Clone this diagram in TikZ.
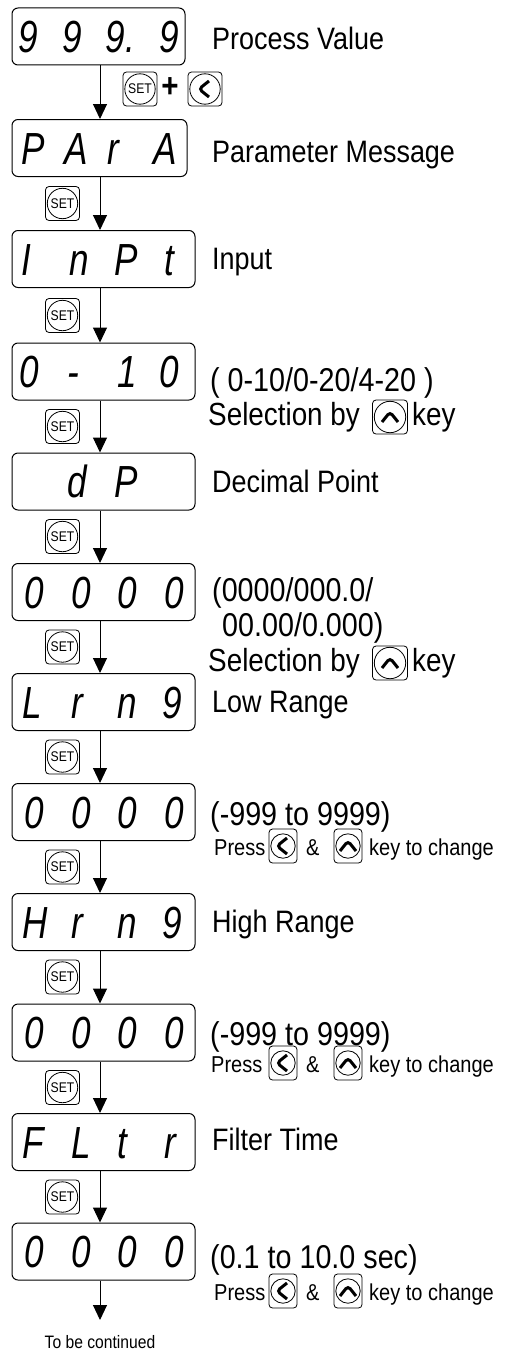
\documentclass[tikz,border=0pt]{standalone}
\usepackage{fontspec}
\setmainfont{Liberation Sans}[FakeStretch=0.87]
\newfontfamily\segfont{Liberation Sans}[FakeStretch=0.78]
\usetikzlibrary{arrows.meta,positioning}
\tikzset{
  display/.style={draw, line width=1pt, rounded corners=6pt, minimum height=57pt, inner sep=0pt},
  seg/.style={anchor=base west, inner sep=0pt, font=\segfont\itshape\fontsize{45}{45}\selectfont},
  lbl/.style={anchor=base west, inner sep=0pt, font=\fontsize{31}{34}\selectfont},
  rng/.style={lbl, font=\fontsize{33}{36}\selectfont},
  sel/.style={lbl, font=\fontsize{32}{35}\selectfont},
  hint/.style={lbl, font=\fontsize{23}{26}\selectfont},
  flow/.style={-{Triangle[length=15pt,width=14pt]}, line width=1pt},
  keybox/.style={draw, line width=0.8pt, rounded corners=3.5pt, minimum width=#1, minimum height=34pt, inner sep=0pt,
    path picture={\draw[line width=0.8pt] (path picture bounding box.center) circle (0.5*#1-1.8pt);}},
  keybox/.default=34pt,
  setkey/.style={keybox, font=\fontsize{14}{14}\selectfont},
  lkey/.style={keybox=#1, path picture={
    \draw[line width=0.8pt] (path picture bounding box.center) circle (0.5*#1-1.8pt);
    \draw[line width=3pt] ([shift={(4pt,8pt)}]path picture bounding box.center) -- ++(-10pt,-8pt) -- ++(10pt,-8pt);}},
  lkey/.default=34pt,
  ukey/.style={keybox=#1, path picture={
    \draw[line width=0.8pt] (path picture bounding box.center) circle (0.5*#1-1.8pt);
    \draw[line width=3pt] ([shift={(-8pt,-5pt)}]path picture bounding box.center) -- ++(8pt,10pt) -- ++(8pt,-10pt);}},
  ukey/.default=34pt
}
\begin{document}
\begin{tikzpicture}[x=1pt,y=-1pt]
  \useasboundingbox (0,0) rectangle (515,1354);
  \coordinate (spine) at (100,0);
  \foreach \n/\yc/\w in {1/36.5/173, 2/148/175, 3/259/183, 4/371.5/183, 5/481.5/183, 6/592/183,
                         7/702/183, 8/812/183, 9/922/183, 10/1032.5/183, 11/1142/183, 12/1251.5/183}
    \node[display, minimum width=\w pt] (b\n) at (12+\w/2,\yc) {};
  \foreach \r/\x/\c in {1/7/9, 1/51/9, 1/94/{9.}, 1/148/9,
                        2/10/P, 2/53/A, 2/96/r, 2/142/A,
                        3/10/I, 3/58/n, 3/103/P, 3/153/t,
                        4/8/0, 4/56/-, 4/106/1, 4/148/0,
                        5/56/d, 5/103/P,
                        7/11/L, 7/60/r, 7/106/n, 7/151/9,
                        9/11/H, 9/60/r, 9/106/n, 9/151/9,
                        11/11/F, 11/60/L, 11/106/t, 11/153/r}
    \node[seg] (s\r-\x) at ([xshift=\x pt,yshift=-16pt]b\r.west) {\c};
  \foreach \r in {6,8,10,12}
    \foreach \x in {13,60,106,153}
      \node[seg] (s\r-\x) at ([xshift=\x pt,yshift=-16pt]b\r.west) {0};
  \foreach \n [count=\p] in {2,...,12}
    \draw[flow] (b\p.south -| spine) -- (b\n.north -| spine);
  \coordinate (tail) at (100,1320);
  \draw[flow] (b12.south -| spine) -- (tail);
  \node[anchor=base, inner sep=0pt, font=\fontsize{18}{20}\selectfont] (cont) at (100,1348) {To be continued};
  \node[setkey] (k1) at (140,89) {SET};
  \node[font=\bfseries\fontsize{34}{34}\selectfont, inner sep=0pt] (plus) at (170,88) {+};
  \node[lkey] (l1) at (205,89) {};
  \foreach \n/\y in {3/203.5, 4/315.5, 5/426.5, 6/536.5, 7/647, 8/757, 9/867, 10/977, 11/1087.5, 12/1197}
    \node[setkey] (k\n) at (62.5,\y) {SET};
  \node[lbl] (t1) at (212,50) {Process Value};
  \node[lbl] (t2) at (212,162) {Parameter Message};
  \node[lbl] (t3) at (212,269) {Input};
  \node[rng] (t4) at (210,391) {( 0-10/0-20/4-20 )};
  \node[lbl] (t5) at (212,492) {Decimal Point};
  \node[rng] (t6) at (212,601) {(0000/000.0/};
  \node[rng] (t6b) at (222,636) {00.00/0.000)};
  \node[lbl] (t7) at (212,712) {Low Range};
  \node[rng] (t8) at (210,825) {(-999 to 9999)};
  \node[lbl] (t9) at (212,932) {High Range};
  \node[rng] (t10) at (210,1045) {(-999 to 9999)};
  \node[lbl] (t11) at (212,1150) {Filter Time};
  \node[rng] (t12) at (210,1268) {(0.1 to 10.0 sec)};
  \foreach \r/\y in {4/425, 6/671} {
    \node[sel] (s\r) at (208,\y) {Selection by};
    \node[ukey=35pt] (u\r) at (390,\y-8) {};
    \node[sel] (y\r) at (412,\y) {key};
  }
  \foreach \r/\y/\px in {8/855/214, 10/1072/211, 12/1300/214} {
    \node[hint] (p\r) at (\px,\y) {Press};
    \node[lkey=28pt] (l\r) at (283,\y-9) {};
    \node[hint] (a\r) at (306,\y) {\&};
    \node[ukey=28pt] (u\r) at (348,\y-9) {};
    \node[hint] (k\r) at (369,\y) {key to change};
  }
\end{tikzpicture}
\end{document}
